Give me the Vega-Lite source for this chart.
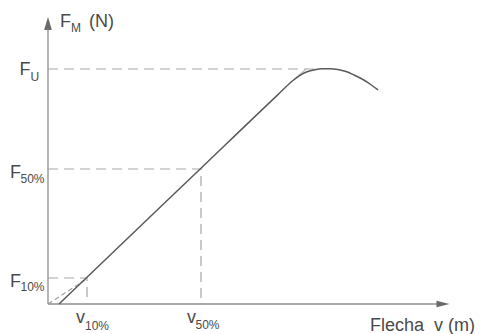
{
  "$schema": "https://vega.github.io/schema/vega-lite/v6.json",
  "width": 482,
  "height": 334,
  "autosize": {"type": "none"},
  "padding": 0,
  "config": {"view": {"stroke": null}},
  "datasets": {
    "guides": [
      {"id": "axis_y", "kind": "axis", "o": 1, "x": 0, "y": 0},
      {"id": "axis_y", "kind": "axis", "o": 2, "x": 0, "y": 278},
      {"id": "axis_x", "kind": "axis", "o": 1, "x": 0, "y": 0},
      {"id": "axis_x", "kind": "axis", "o": 2, "x": 390, "y": 0},
      {"id": "fu", "kind": "guide", "o": 1, "x": 0, "y": 235},
      {"id": "fu", "kind": "guide", "o": 2, "x": 269, "y": 235},
      {"id": "f50", "kind": "guide", "o": 1, "x": 0, "y": 135},
      {"id": "f50", "kind": "guide", "o": 2, "x": 153, "y": 135},
      {"id": "f50", "kind": "guide", "o": 3, "x": 153, "y": 0},
      {"id": "f10", "kind": "guide", "o": 1, "x": 0, "y": 26},
      {"id": "f10", "kind": "guide", "o": 2, "x": 39, "y": 26},
      {"id": "f10", "kind": "guide", "o": 3, "x": 39, "y": 0},
      {"id": "secant", "kind": "secant", "o": 1, "x": 0, "y": 0},
      {"id": "secant", "kind": "secant", "o": 2, "x": 37, "y": 24},
      {"id": "tangent", "kind": "tangent", "o": 1, "x": 245, "y": 223.5},
      {"id": "tangent", "kind": "tangent", "o": 2, "x": 258, "y": 235}
    ],
    "curve": [
      {"x": 11, "y": 0},
      {"x": 39, "y": 26.8},
      {"x": 153, "y": 135.8},
      {"x": 230, "y": 209.4},
      {"x": 245, "y": 223.5},
      {"x": 252, "y": 228.6},
      {"x": 259, "y": 232.2},
      {"x": 267, "y": 234.3},
      {"x": 274, "y": 235.2},
      {"x": 282, "y": 235.3},
      {"x": 290, "y": 234.5},
      {"x": 298, "y": 232.5},
      {"x": 306, "y": 229},
      {"x": 314, "y": 225},
      {"x": 322, "y": 220},
      {"x": 330, "y": 214}
    ],
    "arrows": [
      {"dir": "up", "x": 0, "y": 280.5},
      {"dir": "right", "x": 395, "y": 0}
    ],
    "labels": [
      {"x": 12, "y": 277, "text": "F"},
      {"x": 41, "y": 277, "text": "(N)"},
      {"x": -28.5, "y": 229, "text": "F"},
      {"x": -38, "y": 126, "text": "F"},
      {"x": -38, "y": 17, "text": "F"},
      {"x": 28, "y": -19, "text": "v"},
      {"x": 139, "y": -19, "text": "v"},
      {"x": 322, "y": -27, "text": "Flecha\u00a0 v (m)"}
    ],
    "subs": [
      {"x": 23, "y": 272, "text": "M"},
      {"x": -17.5, "y": 223, "text": "U"},
      {"x": -27.5, "y": 121, "text": "50%"},
      {"x": -27.5, "y": 13.5, "text": "10%"},
      {"x": 37, "y": -26, "text": "10%"},
      {"x": 147.5, "y": -25, "text": "50%"}
    ]
  },
  "encoding": {
    "x": {"field": "x", "type": "quantitative", "scale": {"domain": [-48, 434], "nice": false, "zero": false}, "axis": null},
    "y": {"field": "y", "type": "quantitative", "scale": {"domain": [-30, 304], "nice": false, "zero": false}, "axis": null}
  },
  "layer": [
    {
      "data": {"name": "guides"},
      "mark": {"type": "line", "interpolate": "linear"},
      "encoding": {
        "detail": {"field": "id"},
        "order": {"field": "o", "type": "quantitative"},
        "color": {"field": "kind", "type": "nominal", "legend": null,
          "scale": {"domain": ["axis", "guide", "secant", "tangent"], "range": ["#8f8f8f", "#a8a8a8", "#a0a0a0", "#b4b4b4"]}},
        "strokeDash": {"field": "kind", "type": "nominal", "legend": null,
          "scale": {"domain": ["axis", "guide", "secant", "tangent"], "range": [[1, 0], [10, 6], [5, 3], [1, 0]]}},
        "strokeWidth": {"field": "kind", "type": "nominal", "legend": null,
          "scale": {"domain": ["axis", "guide", "secant", "tangent"], "range": [1.3, 1.1, 0.9, 0.9]}}
      }
    },
    {
      "data": {"name": "curve"},
      "mark": {"type": "line", "interpolate": "monotone", "color": "#5a5a5a", "strokeWidth": 1.5},
      "encoding": {}
    },
    {
      "data": {"name": "arrows"},
      "mark": {"type": "point", "filled": true, "size": 169, "color": "#6a6a6a", "opacity": 1},
      "encoding": {
        "shape": {"field": "dir", "type": "nominal", "legend": null,
          "scale": {"domain": ["up", "right"], "range": ["M0,-1L0.6,1L-0.6,1Z", "M1,0L-1,-0.5L-1,0.5Z"]}}
      }
    },
    {
      "data": {"name": "labels"},
      "mark": {"type": "text", "align": "left", "baseline": "alphabetic", "font": "Liberation Sans", "fontSize": 18, "color": "#4a4a4a"},
      "encoding": {"text": {"field": "text"}}
    },
    {
      "data": {"name": "subs"},
      "mark": {"type": "text", "align": "left", "baseline": "alphabetic", "font": "Liberation Sans", "fontSize": 12, "color": "#4a4a4a"},
      "encoding": {"text": {"field": "text"}}
    }
  ]
}
